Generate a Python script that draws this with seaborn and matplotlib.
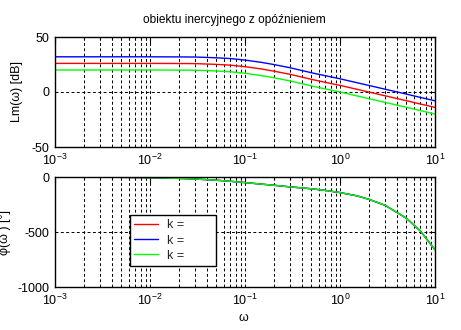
import numpy as np
import pandas as pd
import matplotlib
matplotlib.use("Agg")
import matplotlib.pyplot as plt
import seaborn as sns
from matplotlib.ticker import LogLocator, FixedLocator, NullLocator

sns.set_theme(style="white")
plt.rcParams['font.family'] = ['Liberation Sans', 'DejaVu Sans']
plt.rcParams['mathtext.default'] = 'regular'
plt.rcParams['mathtext.fontset'] = 'custom'
plt.rcParams['mathtext.rm'] = 'Liberation Sans'
plt.rcParams['axes.unicode_minus'] = False

# ---- data ----
omega = [0.001, 0.002, 0.005, 0.01, 0.02, 0.03, 0.05, 0.07, 0.1, 0.15, 0.2,
         0.3, 0.5, 0.7, 1, 1.5, 2, 3, 5, 7, 10]
lm_blue = [32.0, 32.0, 32.0, 32.0, 31.9, 31.8, 31.1, 30.4, 29.0, 26.9, 25.0,
           22.0, 17.5, 14.8, 12.0, 8.5, 6.0, 2.5, -1.9, -4.9, -8.0]
lm_red = [26.0, 26.0, 26.0, 26.0, 25.9, 25.8, 25.1, 24.4, 23.0, 20.9, 19.0,
          16.0, 11.5, 8.8, 6.0, 2.5, 0.0, -3.5, -7.9, -10.9, -14.0]
lm_green = [20.0, 20.0, 20.0, 20.0, 19.9, 19.8, 19.1, 18.4, 17.0, 14.9, 13.0,
            10.0, 5.5, 2.8, 0.0, -3.5, -6.0, -9.5, -13.9, -16.9, -20.0]
phase = [-0.6, -1.3, -3.1, -6.3, -12.5, -18.4, -29.4, -39.0, -50.7, -65.0, -75.0,
         -90.0, -107.0, -122.0, -141.6, -171.0, -202.0, -258.0, -375.0, -490.0, -662.0]
series_labels = ['k =', 'k =', 'k =']
series_colors = ['#ff0000', '#0000ff', '#00ff00']
title = 'obiektu inercyjnego z opóźnieniem'

W, H = 461, 330
fig = plt.figure(figsize=(W / 100, H / 100), dpi=100)
fig.patch.set_facecolor('white')

def px_axes(l, t, r, b):
    return fig.add_axes([l / W, 1 - b / H, (r - l) / W, (b - t) / H])

ax1 = px_axes(55, 37, 435, 147)
ax2 = px_axes(55, 177, 435, 287)

mags = [lm_red, lm_blue, lm_green]
for vals, col, lab in zip(mags, series_colors, series_labels):
    sns.lineplot(x=omega, y=vals, color=col, lw=1.0, ax=ax1, legend=False)
for col, lab in zip(series_colors, series_labels):
    sns.lineplot(x=omega, y=phase, color=col, lw=1.0, ax=ax2, label=lab)

fs = 9
for ax, ylim, yt in [(ax1, (-50, 50), [-50, 0, 50]), (ax2, (-1000, 0), [-1000, -500, 0])]:
    ax.set_xscale('log')
    ax.set_xlim(1e-3, 10)
    ax.set_ylim(*ylim)
    ax.yaxis.set_major_locator(FixedLocator(yt))
    ax.yaxis.set_minor_locator(NullLocator())
    ax.xaxis.set_major_locator(LogLocator(base=10, numticks=10))
    ax.xaxis.set_minor_locator(LogLocator(base=10, subs=np.arange(2, 10), numticks=20))
    ax.grid(True, which='major', axis='both', color='black', linestyle=(0, (3, 2.5)), lw=0.7)
    ax.grid(True, which='minor', axis='x', color='black', linestyle=(0, (3, 2.5)), lw=0.7)
    ax.set_axisbelow(True)
    ax.tick_params(which='both', direction='in', top=True, right=True,
                   labelsize=fs, colors='black', pad=4)
    ax.tick_params(which='major', length=4, width=0.8)
    ax.tick_params(which='minor', length=2, width=0.8)
    for s in ax.spines.values():
        s.set_color('black')
        s.set_linewidth(1.0)
    ax.set_facecolor('white')
    ax.set_xlabel('')

ax1.set_ylabel('Lm(ω) [dB]', fontsize=fs, color='black')
ax1.yaxis.set_label_coords((23 - 55) / 380, 0.5)
ax2.set_ylabel('φ(ω ) [°]', fontsize=fs, color='black')
ax2.yaxis.set_label_coords((11 - 55) / 380, 0.5)
ax2.set_xlabel('ω', fontsize=fs, color='black')
ax2.xaxis.set_label_coords(243 / 461 * 461 / 380 - 55 / 380, (287 - 312) / 110)

fig.text(234 / W, 1 - 20 / H, title, ha='center', va='center', fontsize=8.6, color='black')

leg = ax2.legend(loc='lower left',
                 bbox_to_anchor=((130 - 55) / 380, (287 - 266) / 110, (216 - 130) / 380, (266 - 214) / 110),
                 mode='expand', borderaxespad=0, fontsize=fs, frameon=True, fancybox=False,
                 edgecolor='black', facecolor='white', framealpha=1,
                 handlelength=1.9, labelspacing=0.25, borderpad=0.35, handletextpad=0.7)
leg.get_frame().set_linewidth(1.0)
for ln in leg.get_lines():
    ln.set_linewidth(1.0)

fig.savefig('out.png', dpi=100, facecolor='white')
